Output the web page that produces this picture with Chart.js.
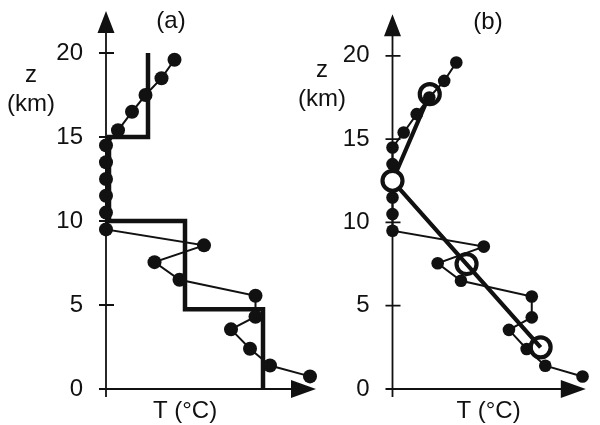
<!DOCTYPE html>
<html>
<head>
<meta charset="utf-8">
<script src="https://cdn.jsdelivr.net/npm/chart.js@4.4.1/dist/chart.umd.min.js"></script>
<style>
  html, body { margin: 0; padding: 0; background: #fff; overflow: hidden; }
  #wrap { position: relative; width: 600px; height: 425px; }
  canvas { position: absolute; top: 0; }
  #chartA { left: 0; }
  #chartB { left: 290px; }
</style>
</head>
<body>
<div id="wrap">
  <canvas id="chartA" width="330" height="425"></canvas>
  <canvas id="chartB" width="310" height="425"></canvas>
</div>
<script>
// sounding: height (km) and temperature, measured from the z axis (no T ticks in the figure)
const soundingZ = [19.6, 18.5, 17.5, 16.5, 15.4, 14.5, 13.5, 12.5, 11.5, 10.5, 9.5, 8.55, 7.55, 6.5, 5.55, 4.3, 3.55, 2.4, 1.4, 0.75];
const soundingT = [6.85, 5.55, 3.95, 2.6, 1.2, 0, 0, 0, 0, 0, 0, 9.8, 4.85, 7.35, 14.95, 14.95, 12.5, 14.4, 16.4, 20.4];

// (a) layer averages
const layerTop = [20, 15, 10, 4.75];
const layerBottom = [15, 10, 4.75, 0];
const layerMeanT = [4.2, 0.3, 7.9, 15.7];

// (b) layer mid points joined by a line
const fitZ = [17.7, 12.5, 7.5, 2.5];
const fitT = [4.0, 0, 7.95, 15.9];

const zTicks = [0, 5, 10, 15, 20];
const ink = "#111";

Chart.defaults.font.family = "'Liberation Sans', Arial, sans-serif";

const sounding = soundingZ.map((z, i) => ({ x: soundingT[i], y: z }));
const steps = [];
layerMeanT.forEach((t, i) => {
  steps.push({ x: t, y: layerTop[i] });
  steps.push({ x: t, y: layerBottom[i] });
});
const fit = fitZ.map((z, i) => ({ x: fitT[i], y: z }));

// axes with arrow heads, ticks and the text labels
const arrowAxes = {
  id: "arrowAxes",
  beforeDatasetsDraw(chart, args, opts) {
    const { ctx, chartArea, scales } = chart;
    const { left, right, top, bottom } = chartArea;
    ctx.save();
    ctx.strokeStyle = ink;
    ctx.fillStyle = ink;
    ctx.lineWidth = 1.8;
    ctx.beginPath();
    ctx.moveTo(left, bottom + 8);
    ctx.lineTo(left, top + 15);
    ctx.moveTo(left - 7, bottom);
    ctx.lineTo(right - 15, bottom);
    zTicks.forEach((v) => {
      const py = scales.y.getPixelForValue(v);
      ctx.moveTo(left - 7, py);
      ctx.lineTo(left + 8, py);
    });
    ctx.stroke();
    ctx.beginPath();
    ctx.moveTo(left, top);
    ctx.lineTo(left - 8.5, top + 22);
    ctx.lineTo(left + 8.5, top + 22);
    ctx.closePath();
    ctx.moveTo(right, bottom);
    ctx.lineTo(right - 25, bottom - 9);
    ctx.lineTo(right - 25, bottom + 9);
    ctx.closePath();
    ctx.fill();
    ctx.font = "24px 'Liberation Sans', Arial, sans-serif";
    ctx.textAlign = "center";
    ctx.textBaseline = "alphabetic";
    opts.labels.forEach((l) => ctx.fillText(l.text, left + l.dx, l.y));
    ctx.restore();
  },
};

function makePanel(canvas, xMax, yWidth, padRight, datasets, labels) {
  return new Chart(canvas, {
    type: "scatter",
    data: { datasets },
    options: {
      responsive: false,
      animation: false,
      events: [],
      layout: { padding: { left: 0, right: padRight, top: 11, bottom: 36 } },
      plugins: {
        legend: { display: false },
        tooltip: { enabled: false },
        arrowAxes: { labels },
      },
      scales: {
        x: { type: "linear", min: 0, max: xMax, display: false },
        y: {
          type: "linear",
          min: 0,
          max: 22.5,
          afterBuildTicks: (s) => {
            s.ticks = zTicks.map((v) => ({ value: v }));
          },
          afterFit: (s) => {
            s.width = yWidth;
            s.paddingTop = 0;
            s.paddingBottom = 0;
          },
          grid: { display: false, drawTicks: false },
          border: { display: false },
          ticks: { padding: 23, color: ink, font: { size: 24 } },
        },
      },
    },
    plugins: [arrowAxes],
  });
}

const soundingSet = (r) => ({
  data: sounding,
  showLine: true,
  borderColor: ink,
  borderWidth: 2,
  pointRadius: r,
  pointBackgroundColor: ink,
  pointBorderWidth: 0,
  clip: false,
});

makePanel(document.getElementById("chartA"), 21, 106, 14, [
  soundingSet(7),
  {
    data: steps,
    showLine: true,
    borderColor: ink,
    borderWidth: 4.5,
    borderJoinStyle: "miter",
    pointRadius: 0,
    clip: false,
  },
], [
  { text: "(a)", dx: 65, y: 28 },
  { text: "z", dx: -75, y: 82 },
  { text: "(km)", dx: -75, y: 111 },
  { text: "T (°C)", dx: 79, y: 418 },
]);

makePanel(document.getElementById("chartB"), 20.75, 102.5, 0, [
  {
    data: fit,
    showLine: true,
    borderColor: ink,
    borderWidth: 4.2,
    pointRadius: 10,
    pointBorderWidth: 4.2,
    pointBorderColor: ink,
    pointBackgroundColor: ["rgba(0,0,0,0)", "#fff", "rgba(0,0,0,0)", "rgba(0,0,0,0)"],
    clip: false,
  },
  soundingSet(6.3),
], [
  { text: "(b)", dx: 95.5, y: 29 },
  { text: "z", dx: -70.5, y: 77 },
  { text: "(km)", dx: -70.5, y: 106 },
  { text: "T (°C)", dx: 96, y: 418 },
]);
</script>
</body>
</html>
